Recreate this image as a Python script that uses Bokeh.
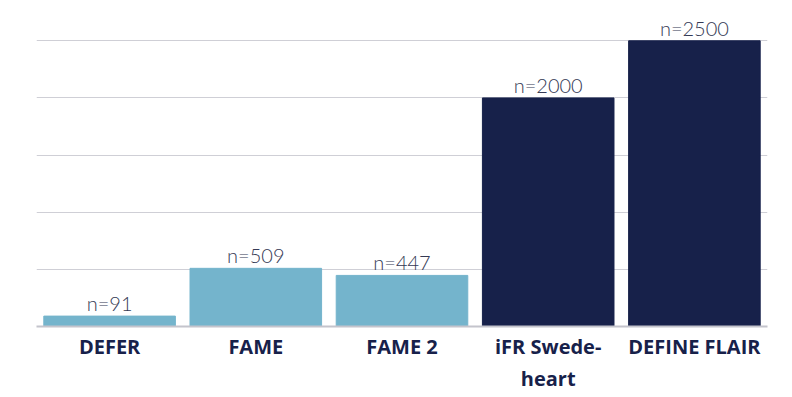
from bokeh.plotting import figure
from bokeh.models import ColumnDataSource, Range1d, FixedTicker
from bokeh.core.properties import value
from bokeh.embed import file_html
from bokeh.resources import INLINE

categories = ["DEFER", "FAME", "FAME 2", "iFR Swede-heart", "DEFINE FLAIR"]
axis_labels = ["DEFER", "FAME", "FAME 2", "iFR Swede-\nheart", "DEFINE FLAIR"]
values = [91, 509, 447, 2000, 2500]
labels = ["n=91", "n=509", "n=447", "n=2000", "n=2500"]
colors = ["#74b4cc", "#74b4cc", "#74b4cc", "#17214a", "#17214a"]
grid_ticks = [0, 500, 1000, 1500, 2000, 2500]

# category slots on a numeric axis: slot i is centred on i + 0.5
slots = [i + 0.5 for i in range(len(categories))]
src = ColumnDataSource(dict(x=slots, cat=categories, val=values, lab=labels, col=colors))

p = figure(x_range=Range1d(0, len(categories)),
           y_range=Range1d(0, 2730),
           width=784, height=394, output_backend="svg", toolbar_location=None,
           min_border_left=36, min_border_right=17, min_border_top=14, min_border_bottom=62)
p.outline_line_color = None
p.background_fill_color = "white"

p.vbar(x="x", top="val", width=0.9, color="col", source=src)
p.text(x="x", y="val", text="lab", source=src, text_align="center", text_baseline="bottom",
       y_offset=-1, text_font=value("Lato Light"), text_font_size="20px", text_color="#353a55")

p.yaxis.visible = False
p.ygrid.ticker = FixedTicker(ticks=grid_ticks)
p.ygrid.grid_line_color = "#cfcfd6"
p.ygrid.grid_line_width = 1
p.xgrid.grid_line_color = None

p.xaxis.ticker = FixedTicker(ticks=slots)
p.xaxis.major_label_overrides = {s: t for s, t in zip(slots, axis_labels)}
p.xaxis.axis_line_color = "#c4c4cc"
p.xaxis.axis_line_width = 2
p.xaxis.major_tick_line_color = None
p.xaxis.minor_tick_line_color = None
p.xaxis.major_label_text_font = "Open Sans"
p.xaxis.major_label_text_font_style = "bold"
p.xaxis.major_label_text_font_size = "20px"
p.xaxis.major_label_text_color = "#17214a"
p.xaxis.major_label_standoff = 0

open("out.html", "w").write(file_html(p, INLINE))
